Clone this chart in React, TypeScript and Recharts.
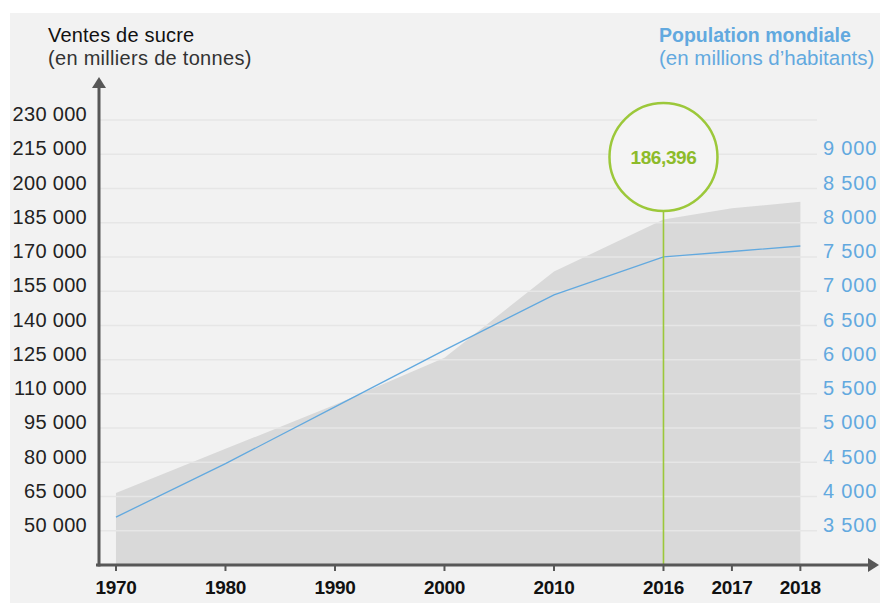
import {
  Area,
  ComposedChart,
  Line,
  ReferenceDot,
  ReferenceLine,
  XAxis,
  YAxis,
} from "recharts";

const years = ["1970", "1980", "1990", "2000", "2010", "2016", "2017", "2018"];
const sugarSales = [66600, 85900, 105200, 125800, 163600, 186396, 191300, 194200];
const worldPopulation = [3700, 4480, 5310, 6140, 6945, 7500, 7580, 7660];

const salesTicks = [
  50000, 65000, 80000, 95000, 110000, 125000, 140000, 155000, 170000, 185000, 200000, 215000, 230000,
];
const popTicks = [3500, 4000, 4500, 5000, 5500, 6000, 6500, 7000, 7500, 8000, 8500, 9000];

const HIGHLIGHT = 5; // index of 2016

const FONT = "'Liberation Sans', Arial, sans-serif";
const BLUE = "#62a9df";
const GREEN = "#9cc83a";
const AXIS_DARK = "#575757";

// decades are one step apart, the last years are squeezed together
const axisPos = (i: number) => (i <= 5 ? i : 5 + (i - 5) * 0.625);

const data = years.map((y, i) => ({
  pos: axisPos(i),
  year: y,
  sales: sugarSales[i],
  pop: worldPopulation[i],
}));

const spaced = (v: number) => String(v).replace(/\B(?=(\d{3})+(?!\d))/g, " ");
const commas = (v: number) => String(v).replace(/\B(?=(\d{3})+(?!\d))/g, ",");

function LeftTick({ y, payload }: any) {
  return (
    <text x={87} y={y - 6} dy="0.36em" textAnchor="end" fontFamily={FONT} fontSize={20} letterSpacing={0.3} fill="#222">
      {spaced(payload.value)}
    </text>
  );
}

function RightTick({ y, payload }: any) {
  return (
    <text x={823} y={y - 6} dy="0.36em" textAnchor="start" fontFamily={FONT} fontSize={20} letterSpacing={0.8} fill={BLUE}>
      {spaced(payload.value)}
    </text>
  );
}

function YearTick({ x, y, index }: any) {
  return (
    <text x={x} y={y + 21} textAnchor="middle" fontFamily={FONT} fontSize={19} fontWeight="bold" letterSpacing={-0.3} fill="#111">
      {years[index]}
    </text>
  );
}

export default function App() {
  const calloutY = 213800;
  return (
    <div style={{ position: "absolute", left: 0, top: 0, width: 880, height: 603, background: "#fff" }}>
      <div style={{ position: "absolute", left: 10, top: 13, width: 870, height: 590, background: "#f2f2f2" }} />
      <div style={{ position: "absolute", left: 0, top: 0 }}>
        <ComposedChart width={880} height={603} data={data} margin={{ top: 79, right: 0, bottom: 0, left: 0 }}>
          <XAxis
            dataKey="pos"
            type="number"
            domain={[-0.155, 6.402]}
            ticks={data.map((d) => d.pos)}
            tick={<YearTick />}
            tickSize={6}
            tickLine={{ stroke: AXIS_DARK, strokeWidth: 2 }}
            axisLine={false}
            height={38}
          />
          <YAxis
            yAxisId="left"
            domain={[35000, 248000]}
            ticks={salesTicks}
            tick={<LeftTick />}
            tickLine={false}
            axisLine={false}
            width={99}
          />
          <YAxis
            yAxisId="right"
            orientation="right"
            domain={[3000, 10100]}
            ticks={popTicks}
            tick={<RightTick />}
            tickLine={false}
            axisLine={false}
            width={63}
          />
          <Area
            yAxisId="left"
            type="linear"
            dataKey="sales"
            stroke="none"
            fill="#d9d9d9"
            fillOpacity={1}
            isAnimationActive={false}
          />
          {salesTicks.map((t) => (
            <ReferenceLine key={t} yAxisId="left" y={t} stroke="#e6e6e6" strokeWidth={1.5} />
          ))}
          <Line
            yAxisId="right"
            type="linear"
            dataKey="pop"
            stroke={BLUE}
            strokeWidth={1.3}
            dot={false}
            isAnimationActive={false}
          />
          <ReferenceLine
            yAxisId="left"
            segment={[
              { x: data[HIGHLIGHT].pos, y: 35000 },
              { x: data[HIGHLIGHT].pos, y: calloutY },
            ]}
            stroke={GREEN}
            strokeWidth={1.6}
            strokeOpacity={1}
          />
          <ReferenceDot
            yAxisId="left"
            x={data[HIGHLIGHT].pos}
            y={calloutY}
            r={54}
            fill="#f4f4f4"
            stroke={GREEN}
            strokeWidth={2.5}
            label={{
              value: commas(sugarSales[HIGHLIGHT]),
              position: "center",
              fill: "#8dbb2a",
              fontSize: 19,
              fontWeight: "bold",
              letterSpacing: -0.4,
              fontFamily: FONT,
            }}
          />
        </ComposedChart>
      </div>
      <svg
        width={880}
        height={603}
        style={{ position: "absolute", left: 0, top: 0, pointerEvents: "none" }}
        fontFamily={FONT}
      >
        {/* axes with arrow heads */}
        <line x1={99} y1={86} x2={99} y2={566.5} stroke={AXIS_DARK} strokeWidth={3} />
        <line x1={96} y1={565} x2={870} y2={565} stroke={AXIS_DARK} strokeWidth={3} />
        <polygon points="99,77 92,88 106,88" fill={AXIS_DARK} />
        <polygon points="879,565 868,558 868,572" fill={AXIS_DARK} />

        <text x={48} y={42} fontSize={20} fill="#111" letterSpacing={0.2}>
          Ventes de sucre
        </text>
        <text x={48} y={65} fontSize={20} fill="#333" letterSpacing={0.3}>
          (en milliers de tonnes)
        </text>
        <text x={659} y={42} fontSize={19.5} fill={BLUE} fontWeight="bold">
          Population mondiale
        </text>
        <text x={659} y={65} fontSize={20.5} fill={BLUE}>
          (en millions d’habitants)
        </text>
      </svg>
    </div>
  );
}
